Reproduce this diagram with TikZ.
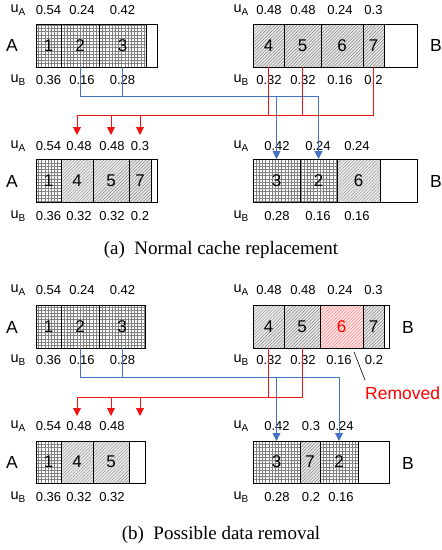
\documentclass[tikz,border=0pt]{standalone}
\usepackage{fontspec}
\setmainfont{Liberation Sans}
\newfontfamily\capfont{Liberation Serif}
\usetikzlibrary{patterns.meta,arrows.meta}
\definecolor{lblue}{RGB}{68,114,196}
\definecolor{lred}{RGB}{240,20,20}
\newcommand{\uAlab}{{\fontsize{14.5}{14.5}\selectfont u}\raisebox{-0.45ex}{\fontsize{10}{10}\selectfont A}}
\newcommand{\uBlab}{{\fontsize{14.5}{14.5}\selectfont u}\raisebox{-0.45ex}{\fontsize{10}{10}\selectfont B}}
\tikzset{
  cellbox/.style={draw, line width=0.7pt, minimum height=43pt, inner sep=0pt, outer sep=0pt, font=\fontsize{17}{17}\selectfont},
  gridcell/.style={cellbox, preaction={fill=white},
     preaction={pattern={Lines[angle=0,distance=3.2pt,line width=0.3pt]}, pattern color=black!50},
     pattern={Lines[angle=90,distance=3.2pt,line width=0.3pt]}, pattern color=black!50},
  hatchcell/.style={cellbox, preaction={fill=gray!18},
     pattern={Lines[angle=45,distance=2.3pt,line width=0.3pt]}, pattern color=black!60},
  redcell/.style={cellbox, preaction={fill=red!10}, text=red,
     pattern={Lines[angle=45,distance=2.3pt,line width=0.3pt]}, pattern color=red!60},
  emptycell/.style={cellbox, fill=white},
  val/.style={font=\fontsize{13}{13}\selectfont, inner sep=0pt},
  side/.style={font=\fontsize{17.5}{17.5}\selectfont, inner sep=0pt},
  bluearrow/.style={draw=lblue, line width=0.9pt, -{Triangle[width=8pt,length=8pt]}},
  redarrow/.style={draw=lred, line width=0.9pt, -{Triangle[width=8pt,length=8pt]}},
  capt/.style={font=\capfont\fontsize{19}{19}\selectfont, anchor=base, inner sep=0pt}
}
\begin{document}
\begin{tikzpicture}[x=1pt,y=-1pt]
\useasboundingbox (0,0) rectangle (442,550);
% ================= (a) =================
% top A
\node[gridcell, minimum width=25pt] (aA1) at (48.5,45.5) {1};
\node[gridcell, minimum width=38pt] (aA2) at (80,45.5) {2};
\node[gridcell, minimum width=47pt] (aA3) at (122.5,45.5) {3};
\node[emptycell, minimum width=11pt] (aAe) at (151.5,45.5) {};
\node[side] (aAl) at (12,45.5) {A};
\node[val] (aAu1) at (18,10) {\uAlab};
\node[val] (aAu2) at (48.5,10) {0.54};
\node[val] (aAu3) at (82,10) {0.24};
\node[val] (aAu4) at (122.5,10) {0.42};
\node[val] (aAv1) at (18,80) {\uBlab};
\node[val] (aAv2) at (48.5,80) {0.36};
\node[val] (aAv3) at (82,80) {0.16};
\node[val] (aAv4) at (122.5,80) {0.28};
% top B
\node[hatchcell, minimum width=31pt] (aB4) at (268.5,45.5) {4};
\node[hatchcell, minimum width=37pt] (aB5) at (302.5,45.5) {5};
\node[hatchcell, minimum width=42pt] (aB6) at (342,45.5) {6};
\node[hatchcell, minimum width=21pt] (aB7) at (373.5,45.5) {7};
\node[emptycell, minimum width=33pt] (aBe) at (400.5,45.5) {};
\node[side] (aBl) at (436,45.5) {B};
\node[val] (aBu1) at (241,10) {\uAlab};
\node[val] (aBu2) at (269,10) {0.48};
\node[val] (aBu3) at (303,10) {0.48};
\node[val] (aBu4) at (340,10) {0.24};
\node[val] (aBu5) at (373.5,10) {0.3};
\node[val] (aBv1) at (241,80) {\uBlab};
\node[val] (aBv2) at (269,80) {0.32};
\node[val] (aBv3) at (303,80) {0.32};
\node[val] (aBv4) at (340,80) {0.16};
\node[val] (aBv5) at (373.5,80) {0.2};
% bottom A
\node[gridcell, minimum width=25pt] (aC1) at (48.5,180.5) {1};
\node[hatchcell, minimum width=32pt] (aC4) at (77,180.5) {4};
\node[hatchcell, minimum width=36pt] (aC5) at (111,180.5) {5};
\node[hatchcell, minimum width=22pt] (aC7) at (140,180.5) {7};
\node[emptycell, minimum width=6pt] (aCe) at (154,180.5) {};
\node[side] (aCl) at (12,181) {A};
\node[val] (aCu1) at (18,146) {\uAlab};
\node[val] (aCu2) at (48.5,146) {0.54};
\node[val] (aCu3) at (79,146) {0.48};
\node[val] (aCu4) at (112,146) {0.48};
\node[val] (aCu5) at (140,146) {0.3};
\node[val] (aCv1) at (18,216) {\uBlab};
\node[val] (aCv2) at (48.5,216) {0.36};
\node[val] (aCv3) at (79,216) {0.32};
\node[val] (aCv4) at (112,216) {0.32};
\node[val] (aCv5) at (140,216) {0.2};
% bottom B
\node[gridcell, minimum width=47pt] (aD3) at (276.5,180.5) {3};
\node[gridcell, minimum width=37pt] (aD2) at (318.5,180.5) {2};
\node[hatchcell, minimum width=43pt] (aD6) at (358.5,180.5) {6};
\node[emptycell, minimum width=37pt] (aDe) at (398.5,180.5) {};
\node[side] (aDl) at (436,181) {B};
\node[val] (aDu1) at (241,146) {\uAlab};
\node[val] (aDu2) at (277,146) {0.42};
\node[val] (aDu3) at (318,146) {0.24};
\node[val] (aDu4) at (357,146) {0.24};
\node[val] (aDv1) at (241,216) {\uBlab};
\node[val] (aDv2) at (277,216) {0.28};
\node[val] (aDv3) at (318,216) {0.16};
\node[val] (aDv4) at (357,216) {0.16};
% connectors (a)
\coordinate (hbA) at (0,96);
\coordinate (hrA) at (0,115);
\coordinate (trA) at (0,135);
\draw[bluearrow] (aA3.south) |- (aD3.north|-hbA) -- (aD3.north);
\draw[bluearrow] (aA2.south) |- (aD2.north|-hbA) -- (aD2.north);
\draw[redarrow] (aB4.south) |- (aC4.north|-hrA) -- (aC4.north|-trA);
\draw[redarrow] (aB5.south) |- (aC5.north|-hrA) -- (aC5.north|-trA);
\draw[redarrow] (aB7.south) |- (aC7.north|-hrA) -- (aC7.north|-trA);
\node[capt] (capa) at (221,254) {(a)\ \ Normal cache replacement};
% ================= (b) =================
% top A
\node[gridcell, minimum width=25pt] (bA1) at (48.5,326.5) {1};
\node[gridcell, minimum width=38pt] (bA2) at (80,326.5) {2};
\node[gridcell, minimum width=46pt] (bA3) at (122,326.5) {3};
\node[side] (bAl) at (12,327) {A};
\node[val] (bAu1) at (18,290) {\uAlab};
\node[val] (bAu2) at (48.5,290) {0.54};
\node[val] (bAu3) at (82,290) {0.24};
\node[val] (bAu4) at (122.5,290) {0.42};
\node[val] (bAv1) at (18,360) {\uBlab};
\node[val] (bAv2) at (48.5,360) {0.36};
\node[val] (bAv3) at (82,360) {0.16};
\node[val] (bAv4) at (122.5,360) {0.28};
% top B
\node[hatchcell, minimum width=31pt] (bB4) at (268.5,326.5) {4};
\node[hatchcell, minimum width=36pt] (bB5) at (302,326.5) {5};
\node[redcell, minimum width=43pt] (bB6) at (341.5,326.5) {6};
\node[hatchcell, minimum width=21pt] (bB7) at (373.5,326.5) {7};
\node[emptycell, minimum width=5pt] (bBe) at (386.5,326.5) {};
\node[side] (bBl) at (408,327) {B};
\node[val] (bBu1) at (241,290) {\uAlab};
\node[val] (bBu2) at (269,290) {0.48};
\node[val] (bBu3) at (303,290) {0.48};
\node[val] (bBu4) at (340,290) {0.24};
\node[val] (bBu5) at (373.5,290) {0.3};
\node[val] (bBv1) at (241,360) {\uBlab};
\node[val] (bBv2) at (269,360) {0.32};
\node[val] (bBv3) at (303,360) {0.32};
\node[val] (bBv4) at (339,360) {0.16};
\node[val] (bBv5) at (374,360) {0.2};
\coordinate (rm1) at (354,352);
\coordinate (rm2) at (365,380);
\draw[line width=0.6pt] (rm1) -- (rm2);
\node[side, text=red, anchor=west] (rmt) at (365,393) {Removed};
% bottom A
\node[gridcell, minimum width=25pt, minimum height=42pt] (bC1) at (48.5,462) {1};
\node[hatchcell, minimum width=32pt, minimum height=42pt] (bC4) at (77,462) {4};
\node[hatchcell, minimum width=36pt, minimum height=42pt] (bC5) at (111,462) {5};
\node[emptycell, minimum width=16pt, minimum height=42pt] (bCe) at (137,462) {};
\node[side] (bCl) at (12,462) {A};
\node[val] (bCu1) at (18,426) {\uAlab};
\node[val] (bCu2) at (48.5,426) {0.54};
\node[val] (bCu3) at (79,426) {0.48};
\node[val] (bCu4) at (112,426) {0.48};
\node[val] (bCv1) at (18,497) {\uBlab};
\node[val] (bCv2) at (48.5,497) {0.36};
\node[val] (bCv3) at (79,497) {0.32};
\node[val] (bCv4) at (112,497) {0.32};
% bottom B
\node[gridcell, minimum width=47pt, minimum height=42pt] (bD3) at (276.5,462) {3};
\node[hatchcell, minimum width=20pt, minimum height=42pt] (bD7) at (310,462) {7};
\node[gridcell, minimum width=38pt, minimum height=42pt] (bD2) at (339,462) {2};
\node[emptycell, minimum width=31pt, minimum height=42pt] (bDe) at (373.5,462) {};
\node[side] (bDl) at (408,463) {B};
\node[val] (bDu1) at (241,426) {\uAlab};
\node[val] (bDu2) at (277,426) {0.42};
\node[val] (bDu3) at (311,426) {0.3};
\node[val] (bDu4) at (341,426) {0.24};
\node[val] (bDv1) at (241,497) {\uBlab};
\node[val] (bDv2) at (277,497) {0.28};
\node[val] (bDv3) at (311,497) {0.2};
\node[val] (bDv4) at (341,497) {0.16};
% connectors (b)
\coordinate (hbB) at (0,377);
\coordinate (hrB) at (0,397);
\coordinate (trB) at (0,416);
\coordinate (r3a) at (140,397);
\coordinate (r3b) at (140,416);
\draw[bluearrow] (bA3.south) |- (bD3.north|-hbB) -- (bD3.north);
\draw[bluearrow] (bA2.south) |- (bD2.north|-hbB) -- (bD2.north);
\draw[redarrow] (bB4.south) |- (bC4.north|-hrB) -- (bC4.north|-trB);
\draw[redarrow] (bB5.south) |- (bC5.north|-hrB) -- (bC5.north|-trB);
\draw[redarrow] (r3a) -- (r3b);
\node[capt] (capb) at (221,539) {(b)\ \ Possible data removal};
\end{tikzpicture}
\end{document}
